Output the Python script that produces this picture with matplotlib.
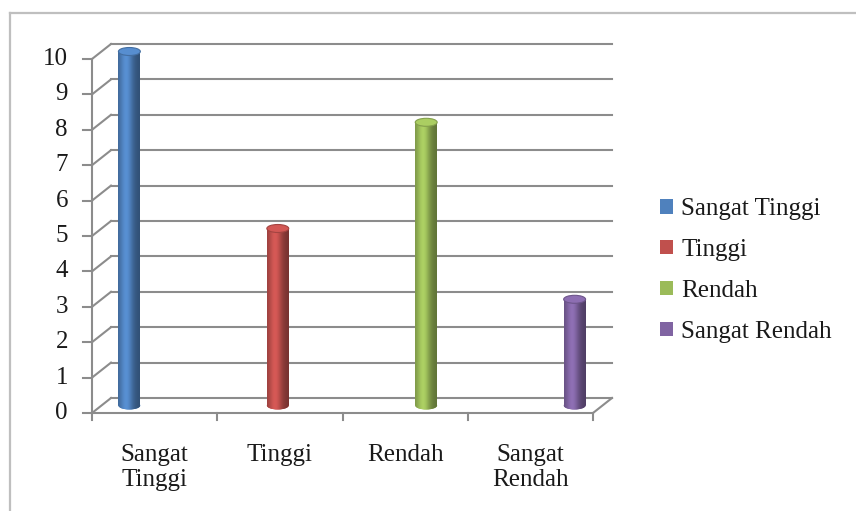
import numpy as np
import matplotlib
matplotlib.use("Agg")
import matplotlib.pyplot as plt
from matplotlib.patches import Ellipse, Rectangle
from matplotlib.transforms import offset_copy
from matplotlib.colors import to_rgb

categories = ["Sangat\nTinggi", "Tinggi", "Rendah", "Sangat\nRendah"]
series_names = ["Sangat Tinggi", "Tinggi", "Rendah", "Sangat Rendah"]
sangat_tinggi = [10, 0, 0, 0]
tinggi = [0, 5, 0, 0]
rendah = [0, 0, 8, 0]
sangat_rendah = [0, 0, 0, 3]
series_values = [sangat_tinggi, tinggi, rendah, sangat_rendah]
colors = ["#4F81BD", "#C0504D", "#9BBB59", "#8064A2"]
y_ticks = list(range(0, 11))

FONT = "Liberation Serif"
FS = 18

W, H = 856, 511
fig = plt.figure(figsize=(W / 100, H / 100), dpi=100)
fig.patch.set_facecolor("white")

# main axes = mid-depth plane
px_per_unit = 35.4
y0_px = 405.5
x_left_px, x_right_px = 101.5, 602.5
ylo, yhi = -1.0, 10.5
bottom_px = y0_px - ylo * px_per_unit
top_px = y0_px - yhi * px_per_unit
ax = fig.add_axes([x_left_px / W, (H - bottom_px) / H,
                   (x_right_px - x_left_px) / W, (bottom_px - top_px) / H])
ax.set_axis_off()

xmin, xmax = -0.5, len(categories) - 0.5
ax.set_xlim(xmin, xmax)
ax.set_ylim(ylo, yhi)

dx, dy = 9.5, 7.5  # depth offset in pixels
back = offset_copy(ax.transData, fig=fig, x=dx, y=dy, units="dots")
front = offset_copy(ax.transData, fig=fig, x=-dx, y=-dy, units="dots")

grid_c = "#8C8C8C"
lw = 1.5


def fig_line(p, q, **kw):
    fig.add_artist(plt.Line2D([p[0] / W, q[0] / W], [p[1] / H, q[1] / H],
                              transform=fig.transFigure, color=grid_c, lw=lw, **kw))


# back wall gridlines
for v in y_ticks:
    ax.plot([xmin, xmax], [v, v], color=grid_c, lw=lw, transform=back, clip_on=False, zorder=1)
# left wall diagonals
for v in y_ticks:
    fig_line(back.transform((xmin, v)), front.transform((xmin, v)))
# front-left vertical axis
ax.plot([xmin, xmin], [0, 10], color=grid_c, lw=lw, transform=front, clip_on=False, zorder=1)
# floor front edge
ax.plot([xmin, xmax], [0, 0], color=grid_c, lw=lw, transform=front, clip_on=False, zorder=1)
# floor right diagonal
fig_line(back.transform((xmax, 0)), front.transform((xmax, 0)))
# y ticks and labels
lab_tr = offset_copy(ax.transData, fig=fig, x=-dx - 24, y=-dy, units="dots")
for v in y_ticks:
    p0 = front.transform((xmin, v))
    fig_line((p0[0] - 9, p0[1]), p0)
    ax.text(xmin, v, str(v), transform=lab_tr, ha="right", va="center",
            family=FONT, fontsize=FS, color="#1a1a1a", clip_on=False)
# category ticks
for b in np.arange(xmin, xmax + 0.01, 1.0):
    p0 = front.transform((b, 0))
    fig_line(p0, (p0[0], p0[1] - 7))
# category labels
cat_tr = offset_copy(ax.transData, fig=fig, x=-dx, y=-dy - 31, units="dots")
for i, c in enumerate(categories):
    ax.text(i, 0, c, transform=cat_tr, ha="center", va="top", family=FONT,
            fontsize=FS, color="#1a1a1a", linespacing=1.15, clip_on=False)

# cylinders
n = len(series_values)
step = 0.185
bw = 0.175
x = np.arange(len(categories))
cap_h = 8 / px_per_unit
for j, (vals, col) in enumerate(zip(series_values, colors)):
    xs = x + (j - (n - 1) / 2) * step
    bars = ax.bar(xs, vals, width=bw, color=col, zorder=3, linewidth=0)
    base = np.array(to_rgb(col))
    t = np.linspace(0, 1, 64)
    shade = 0.74 + 0.42 * np.exp(-((t - 0.38) / 0.3) ** 2) - 0.12 * t
    grad = np.clip(base[None, :] * shade[:, None], 0, 1)[None, :, :]
    for rect, v in zip(bars.patches, vals):
        if v <= 0:
            continue
        xl = rect.get_x()
        xc = xl + bw / 2
        be = Ellipse((xc, 0), bw, cap_h, facecolor=col, edgecolor="none", zorder=3)
        ax.add_patch(be)
        im = ax.imshow(grad, extent=[xl, xl + bw, -cap_h, v], aspect="auto", zorder=4)
        im.set_clip_path(rect)
        im2 = ax.imshow(grad, extent=[xl, xl + bw, -cap_h, v], aspect="auto", zorder=4)
        im2.set_clip_path(be)
        top_col = np.clip(base * 1.1, 0, 1)
        te = Ellipse((xc, v), bw, cap_h, facecolor=top_col,
                     edgecolor=np.clip(base * 0.85, 0, 1), lw=0.8, zorder=5)
        ax.add_patch(te)

ax.set_xlim(xmin, xmax)
ax.set_ylim(ylo, yhi)

# legend
handles = [Rectangle((0, 0), 1, 1, facecolor=c, edgecolor="none") for c in colors]
leg = fig.legend(handles, series_names, loc="center left",
                 bbox_to_anchor=(660 / W, (H - 270.5) / H), frameon=False,
                 prop={"family": FONT, "size": FS},
                 handlelength=0.5, handleheight=0.5, handletextpad=0.35,
                 labelspacing=0.75, borderpad=0, borderaxespad=0)
for t in leg.get_texts():
    t.set_color("#1a1a1a")

# outer chart border
fig.add_artist(plt.Line2D([10 / W, 10 / W], [0, (H - 13) / H], color="#BFBFBF", lw=1.6,
                          transform=fig.transFigure))
fig.add_artist(plt.Line2D([10 / W, 1], [(H - 13) / H, (H - 13) / H], color="#BFBFBF", lw=1.6,
                          transform=fig.transFigure))

fig.savefig("out.png", dpi=100, facecolor="white")
